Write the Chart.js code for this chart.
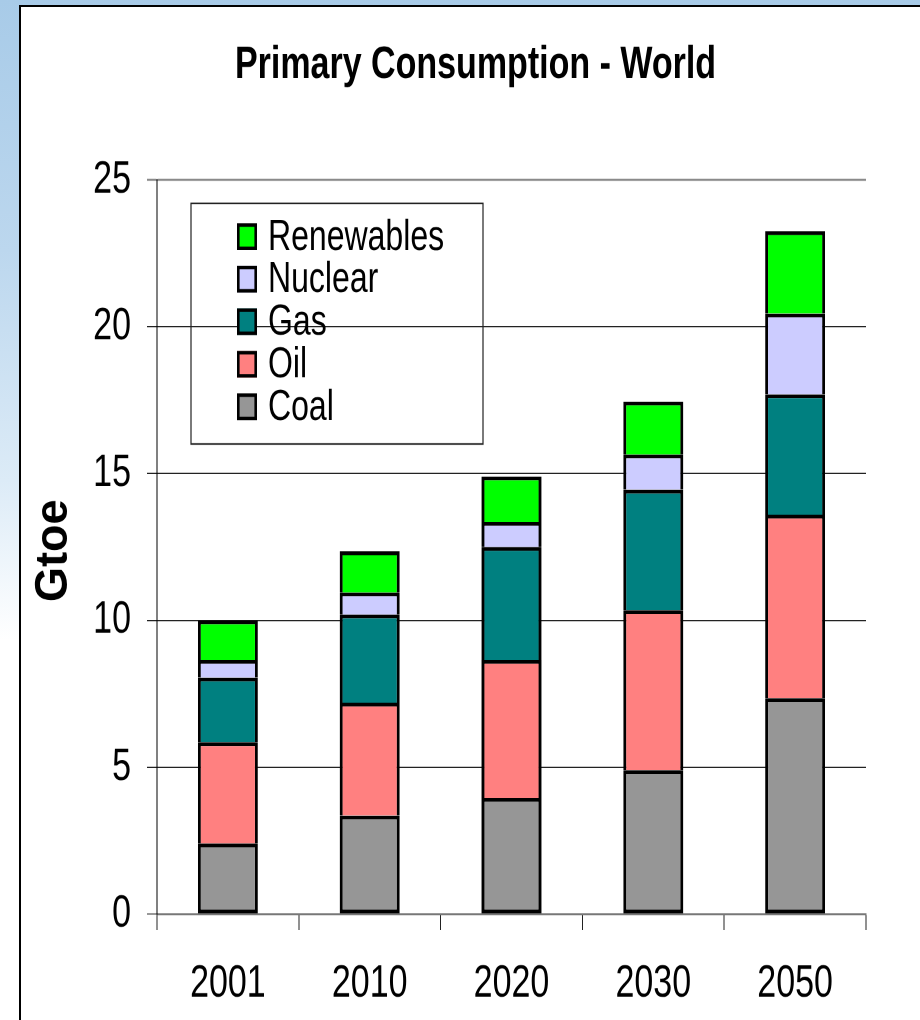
<!DOCTYPE html>
<html>
<head>
<meta charset="utf-8">
<title>Primary Consumption - World</title>
<script src="https://cdn.jsdelivr.net/npm/chart.js@4.4.1/dist/chart.umd.min.js"></script>
<style>
  html, body { margin: 0; padding: 0; overflow: hidden; }
  html {
    width: 920px; height: 1020px;
    background: linear-gradient(180deg, #a8cbe8 0px, #bcd7ee 250px, #dcebf7 480px, #ffffff 640px);
  }
  body { width: 920px; height: 1020px; position: relative; background: transparent; }
  #panel {
    position: absolute; left: 19px; top: 5px; width: 960px; height: 1060px;
    background: #ffffff; border-left: 2px solid #000; border-top: 2px solid #000;
  }
  /* the chart is laid out on a 920x765 surface and stretched to full page height */
  #wrap {
    position: absolute; left: 0; top: 0; width: 920px; height: 765px;
    transform: scaleY(1.33333); transform-origin: 0 0;
  }
</style>
</head>
<body>
<div id="panel"></div>
<div id="wrap"><canvas id="chart"></canvas></div>
<script>
const years = ['2001', '2010', '2020', '2030', '2050'];
const coal = [2.4, 3.35, 3.95, 4.9, 7.35];
const oil = [3.45, 3.85, 4.7, 5.45, 6.25];
const gas = [2.2, 3.0, 3.85, 4.1, 4.1];
const nuclear = [0.6, 0.75, 0.85, 1.2, 2.75];
const renewables = [1.35, 1.4, 1.55, 1.8, 2.8];
const yTicks = [0, 5, 10, 15, 20, 25];

const FONT = "'Liberation Sans', Arial, Helvetica, sans-serif";
const STRETCH = 1.33333;

// Boxed legend inside the plot, top series first
const boxLegend = {
  id: 'boxLegend',
  afterDraw(chart) {
    const ctx = chart.ctx;
    ctx.save();
    ctx.strokeStyle = '#222';
    ctx.lineWidth = 1.2;
    ctx.strokeRect(191, 152.5, 292, 180.5);
    const items = chart.data.datasets.slice().reverse();
    ctx.font = '32px ' + FONT;
    ctx.textBaseline = 'middle';
    ctx.textAlign = 'left';
    items.forEach((ds, i) => {
      const cy = 177.5 + i * 31.9;
      ctx.fillStyle = ds.backgroundColor;
      ctx.fillRect(237, cy - 10, 20, 20);
      ctx.strokeStyle = '#000';
      ctx.lineWidth = 2.6;
      ctx.strokeRect(238.3, cy - 8.7, 17.4, 17.4);
      ctx.fillStyle = '#000';
      ctx.fillText(ds.label, 268, cy + 1);
    });
    ctx.restore();
  }
};

// Rotated y-axis title, counter-scaled so the page stretch keeps its proportions
const yTitle = {
  id: 'yTitle',
  afterDraw(chart) {
    const ctx = chart.ctx;
    ctx.save();
    ctx.translate(54, 413);
    ctx.scale(1, 1 / STRETCH);
    ctx.rotate(-Math.PI / 2);
    ctx.font = 'bold 45px ' + FONT;
    ctx.fillStyle = '#000';
    ctx.textAlign = 'center';
    ctx.textBaseline = 'middle';
    ctx.fillText('Gtoe', 0, 0);
    ctx.restore();
  }
};

function series(label, data, color, skip) {
  return {
    label, data,
    backgroundColor: color,
    borderColor: '#000',
    borderWidth: 2.9,
    borderSkipped: skip,
    categoryPercentage: 1,
    barPercentage: 0.4225
  };
}

new Chart(document.getElementById('chart'), {
  type: 'bar',
  data: {
    labels: years,
    datasets: [
      series('Coal', coal, '#969696', false),
      series('Oil', oil, '#ff8080', 'start'),
      series('Gas', gas, '#008080', 'start'),
      series('Nuclear', nuclear, '#ccccff', 'start'),
      series('Renewables', renewables, '#00ff00', 'start')
    ]
  },
  options: {
    responsive: true,
    maintainAspectRatio: false,
    devicePixelRatio: 2,
    animation: false,
    layout: { padding: { left: 85, right: 54, top: 0, bottom: 0 } },
    plugins: {
      legend: { display: false },
      tooltip: { enabled: false },
      title: {
        display: true,
        text: 'Primary Consumption - World',
        color: '#000',
        font: { family: FONT, size: 34, weight: 'bold', lineHeight: 1.2 },
        padding: { top: 28.5, bottom: 65.7 }
      }
    },
    scales: {
      x: {
        stacked: true,
        offset: true,
        afterFit: (s) => { s.height = 79.5; },
        grid: {
          offset: true,
          drawOnChartArea: false,
          drawTicks: true,
          tickLength: 12,
          color: '#222',
          lineWidth: 1
        },
        border: { display: true, color: '#777', width: 1.5 },
        ticks: {
          color: '#000',
          padding: 20,
          font: { family: FONT, size: 34 },
          maxRotation: 0
        }
      },
      y: {
        stacked: true,
        min: 0,
        max: 25,
        afterFit: (s) => { s.width = 72; },
        afterBuildTicks: (s) => { s.ticks = yTicks.map(v => ({ value: v })); },
        grid: {
          drawTicks: true,
          tickLength: 10,
          color: (c) => (c.tick && c.tick.value === 25) ? '#8a8a8a' : (c.tick && c.tick.value === 0 ? '#777' : '#222'),
          lineWidth: (c) => (c.tick && c.tick.value === 25) ? 1.6 : 1
        },
        border: { display: true, color: '#000', width: 1 },
        ticks: {
          color: '#000',
          padding: 16,
          font: { family: FONT, size: 34 }
        }
      }
    }
  },
  plugins: [boxLegend, yTitle]
});
</script>
</body>
</html>
